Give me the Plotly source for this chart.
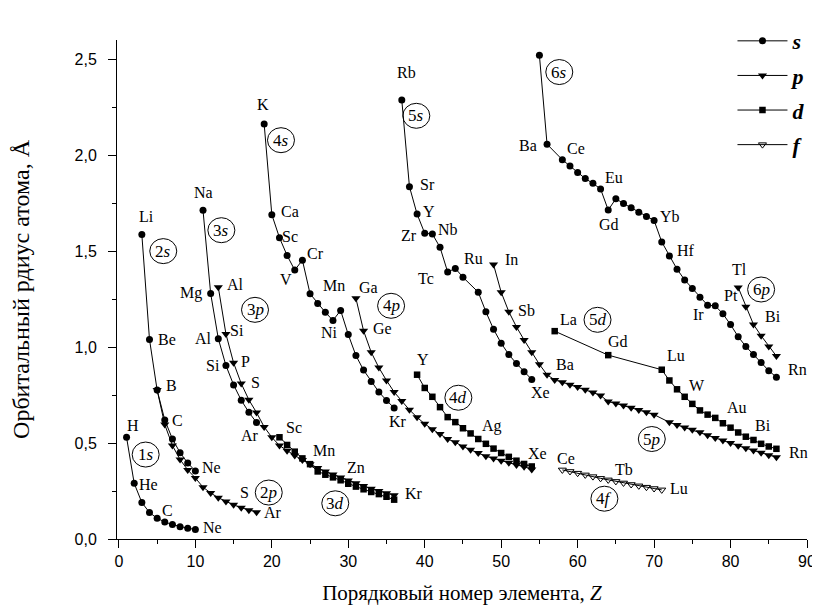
import plotly.graph_objects as go

# ---------------- data (Z, orbital radius in Å) ----------------
z_1s = [1, 2, 3, 4, 5, 6, 7, 8, 9, 10]
r_1s = [0.53, 0.29, 0.19, 0.138, 0.108, 0.089, 0.075, 0.064, 0.056, 0.05]

z_2s = [3, 4, 5, 6, 7, 8, 9, 10]
r_2s = [1.586, 1.040, 0.776, 0.62, 0.521, 0.45, 0.396, 0.354]

z_2p = list(range(5, 19))
r_2p = [0.776, 0.596, 0.487, 0.414, 0.360, 0.318, 0.27, 0.24, 0.215, 0.195,
        0.178, 0.163, 0.15, 0.14]

z_3s = list(range(11, 19))
r_3s = [1.713, 1.279, 1.044, 0.904, 0.803, 0.723, 0.660, 0.607]

z_3p = list(range(13, 37))
r_3p = [1.312, 1.068, 0.918, 0.810, 0.725, 0.659, 0.584, 0.53, 0.487, 0.46,
        0.435, 0.412, 0.39, 0.37, 0.352, 0.336, 0.32, 0.305, 0.29, 0.276,
        0.262, 0.25, 0.238, 0.228]

z_3d = list(range(21, 37))
r_3d = [0.53, 0.49, 0.455, 0.42, 0.39, 0.352, 0.335, 0.321, 0.306, 0.288,
        0.273, 0.259, 0.245, 0.234, 0.22, 0.205]

z_4s = list(range(19, 37))
r_4s = [2.162, 1.690, 1.570, 1.477, 1.401, 1.453, 1.278, 1.227, 1.181, 1.139,
        1.191, 1.065, 0.956, 0.880, 0.821, 0.766, 0.722, 0.683]

z_4p = list(range(31, 55))
r_4p = [1.254, 1.085, 0.973, 0.893, 0.826, 0.766, 0.719, 0.673, 0.634, 0.600,
        0.572, 0.547, 0.521, 0.504, 0.482, 0.465, 0.448, 0.431, 0.420, 0.408,
        0.397, 0.386, 0.377, 0.362]

z_4d = list(range(39, 55))
r_4d = [0.856, 0.787, 0.741, 0.687, 0.635, 0.609, 0.577, 0.550, 0.521, 0.496,
        0.471, 0.448, 0.428, 0.408, 0.391, 0.378]

z_5s = [37, 38, 39, 40, 41, 42, 43, 44, 45, 47, 48, 49, 50, 51, 52, 53, 54]
r_5s = [2.287, 1.836, 1.693, 1.593, 1.589, 1.520, 1.391, 1.410, 1.364, 1.286,
        1.184, 1.093, 1.020, 0.961, 0.914, 0.871, 0.831]

z_5p = list(range(49, 71)) + list(range(72, 87))
r_5p = [1.43, 1.286, 1.184, 1.105, 1.037, 0.973, 0.91, 0.856, 0.829, 0.817,
        0.804, 0.792, 0.778, 0.763, 0.748, 0.716, 0.706, 0.696, 0.684, 0.672,
        0.66, 0.648,
        0.608, 0.594, 0.581, 0.569, 0.556, 0.54, 0.526, 0.513, 0.5, 0.486,
        0.473, 0.461, 0.449, 0.437, 0.426]

z_5d = [57, 64] + list(range(71, 87))
r_5d = [1.083, 0.958, 0.882, 0.826, 0.78, 0.741, 0.704, 0.67, 0.648, 0.631,
        0.603, 0.58, 0.555, 0.533, 0.516, 0.496, 0.482, 0.47]

z_4f = list(range(58, 72))
r_4f = [0.36, 0.352, 0.343, 0.334, 0.325, 0.316, 0.308, 0.3, 0.292, 0.284,
        0.277, 0.27, 0.263, 0.256]

z_6s = [55, 56] + list(range(58, 87))
r_6s = [2.52, 2.057, 1.976, 1.943, 1.909, 1.878, 1.853, 1.824, 1.714, 1.773,
        1.748, 1.726, 1.702, 1.68, 1.66, 1.548, 1.474, 1.406, 1.35, 1.305,
        1.26, 1.218, 1.215, 1.173, 1.117, 1.054, 1.003, 0.961, 0.919, 0.877,
        0.843]

z_6p = [81, 82, 83, 84, 85, 86]
r_6p = [1.311, 1.21, 1.118, 1.059, 1.003, 0.953]

# element labels: (text, Z, r)
element_labels = [
    ("H", 1.86, 0.592), ("He", 3.9, 0.284), ("Li", 3.6, 1.68), ("Be", 6.3, 1.04),
    ("B", 6.9, 0.80), ("C", 7.7, 0.62), ("Ne", 12.1, 0.372), ("C", 6.3, 0.149),
    ("Ne", 12.2, 0.059), ("S", 16.4, 0.242), ("Ar", 20.1, 0.14),
    ("Na", 11.1, 1.807), ("Mg", 9.4, 1.283), ("Al", 15.3, 1.325), ("Al", 11.1, 1.046),
    ("Si", 15.5, 1.085), ("Si", 12.3, 0.905), ("P", 16.6, 0.927), ("S", 17.9, 0.817),
    ("Ar", 17.2, 0.538),
    ("K", 18.9, 2.264), ("Ca", 22.4, 1.706), ("Sc", 22.4, 1.574), ("V", 21.8, 1.35),
    ("Cr", 25.7, 1.486), ("Mn", 28.1, 1.321), ("Ni", 27.5, 1.075), ("Sc", 22.9, 0.58),
    ("Mn", 26.8, 0.462), ("Zn", 31.0, 0.372), ("Kr", 38.6, 0.239), ("Ga", 32.6, 1.311),
    ("Ge", 34.5, 1.096), ("Kr", 36.5, 0.614),
    ("Rb", 37.6, 2.43), ("Sr", 40.4, 1.849), ("Y", 40.5, 1.706), ("Zr", 38.0, 1.582),
    ("Nb", 43.0, 1.613), ("Tc", 40.2, 1.355), ("Ru", 46.4, 1.46), ("In", 51.4, 1.455),
    ("Sb", 53.3, 1.193), ("Xe", 55.1, 0.763), ("Ba", 58.4, 0.91), ("Y", 39.8, 0.936),
    ("Ag", 48.8, 0.589), ("Xe", 54.8, 0.445),
    ("Cs", 55.3, 2.62), ("Ba", 53.5, 2.049), ("Ce", 59.8, 2.036), ("Eu", 64.8, 1.883),
    ("Gd", 64.1, 1.638), ("Yb", 72.1, 1.68), ("Hf", 74.2, 1.503), ("Ir", 75.8, 1.169),
    ("Pt", 80.0, 1.271), ("Tl", 81.2, 1.406), ("Bi", 85.5, 1.159), ("Rn", 88.8, 0.882),
    ("La", 58.8, 1.142), ("Gd", 65.3, 1.029), ("Lu", 72.8, 0.956), ("W", 75.6, 0.80),
    ("Au", 80.8, 0.685), ("Bi", 84.3, 0.592), ("Rn", 88.9, 0.453),
    ("Ce", 58.5, 0.42), ("Tb", 66.1, 0.36), ("Lu", 73.3, 0.265),
]

# circled orbital labels: (text, Z, r)
orbital_labels = [
    ("1<i>s</i>", 3.5, 0.44), ("2<i>s</i>", 5.8, 1.50), ("2<i>p</i>", 19.6, 0.242),
    ("3<i>s</i>", 13.4, 1.609), ("3<i>p</i>", 17.8, 1.194), ("3<i>d</i>", 28.3, 0.186),
    ("4<i>s</i>", 21.2, 2.078), ("4<i>p</i>", 35.6, 1.215), ("4<i>d</i>", 44.4, 0.736),
    ("4<i>f</i>", 63.5, 0.21), ("5<i>s</i>", 38.9, 2.205), ("5<i>p</i>", 69.7, 0.521),
    ("5<i>d</i>", 62.6, 1.142), ("6<i>s</i>", 57.6, 2.433), ("6<i>p</i>", 84.0, 1.30),
]


def join(*pairs):
    xs, ys = [], []
    for zz, rr in pairs:
        if xs:
            xs.append(None)
            ys.append(None)
        xs += list(zz)
        ys += list(rr)
    return xs, ys


SERIF = "Liberation Serif"
SANS = "Liberation Sans"

fig = go.Figure()

series = [
    ("<b><i>s</i></b>", [(z_1s, r_1s), (z_2s, r_2s), (z_3s, r_3s), (z_4s, r_4s),
                         (z_5s, r_5s), (z_6s, r_6s)],
     dict(symbol="circle", size=7, color="black")),
    ("<b><i>p</i></b>", [(z_2p, r_2p), (z_3p, r_3p), (z_4p, r_4p), (z_5p, r_5p),
                         (z_6p, r_6p)],
     dict(symbol="triangle-down", size=8, color="black")),
    ("<b><i>d</i></b>", [(z_3d, r_3d), (z_4d, r_4d), (z_5d, r_5d)],
     dict(symbol="square", size=6.5, color="black")),
    ("<b><i>f</i></b>", [(z_4f, r_4f)],
     dict(symbol="triangle-down-open", size=7, color="black", line=dict(width=1, color="black"))),
]

for i, (name, segs, mk) in enumerate(series):
    xs, ys = join(*segs)
    fig.add_trace(go.Scatter(
        x=xs, y=ys, mode="lines+markers", name=name, legendgroup=f"g{i}",
        line=dict(color="black", width=1), marker=mk, connectgaps=False,
    ))

annotations = []
for txt, zx, ry in element_labels:
    annotations.append(dict(x=zx, y=ry, xref="x", yref="y", text=txt, showarrow=False,
                            font=dict(family=SERIF, size=16, color="black"),
                            xanchor="center", yanchor="middle"))
shapes = []
for txt, zx, ry in orbital_labels:
    annotations.append(dict(x=zx, y=ry, xref="x", yref="y", text=txt, showarrow=False,
                            font=dict(family=SERIF, size=17, color="black"),
                            xanchor="center", yanchor="middle"))
    shapes.append(dict(type="circle", xref="x", yref="y", xsizemode="pixel",
                       ysizemode="pixel", xanchor=zx, yanchor=ry,
                       x0=-13.5, x1=13.5, y0=-12.5, y1=12.5,
                       line=dict(color="black", width=1)))

fig.update_layout(
    width=820, height=613,
    margin=dict(l=108, r=15, t=19, b=82),
    paper_bgcolor="white", plot_bgcolor="white",
    separators=",.",
    annotations=annotations, shapes=shapes,
    showlegend=True,
    legend=dict(x=0.892, y=1.04, xanchor="left", yanchor="top",
                font=dict(family=SERIF, size=22, color="black"),
                bgcolor="rgba(0,0,0,0)", tracegroupgap=3, itemwidth=50),
    xaxis=dict(range=[-0.25, 90], tickmode="linear", tick0=0, dtick=10,
               ticks="outside", ticklen=8, tickwidth=1, tickcolor="black",
               minor=dict(ticks="outside", ticklen=4, dtick=5, tickcolor="black"),
               showline=True, linecolor="black", linewidth=1, showgrid=False,
               zeroline=False, tickfont=dict(family=SANS, size=16, color="black"),
               title=dict(text="Порядковый номер элемента, <i>Z</i>",
                          font=dict(family=SERIF, size=21, color="black"), standoff=16)),
    yaxis=dict(range=[0, 2.6], tickmode="linear", tick0=0, dtick=0.5, tickformat=".1f",
               ticks="outside", ticklen=8, tickwidth=1, tickcolor="black",
               ticklabelstandoff=8,
               minor=dict(ticks="outside", ticklen=4, dtick=0.25, tickcolor="black"),
               showline=True, linecolor="black", linewidth=1, showgrid=False,
               zeroline=False, tickfont=dict(family=SANS, size=16, color="black"),
               title=dict(text="Орбитальный рдиус атома, Å",
                          font=dict(family=SERIF, size=24, color="black"), standoff=38)),
)

fig.write_html("out.html")
